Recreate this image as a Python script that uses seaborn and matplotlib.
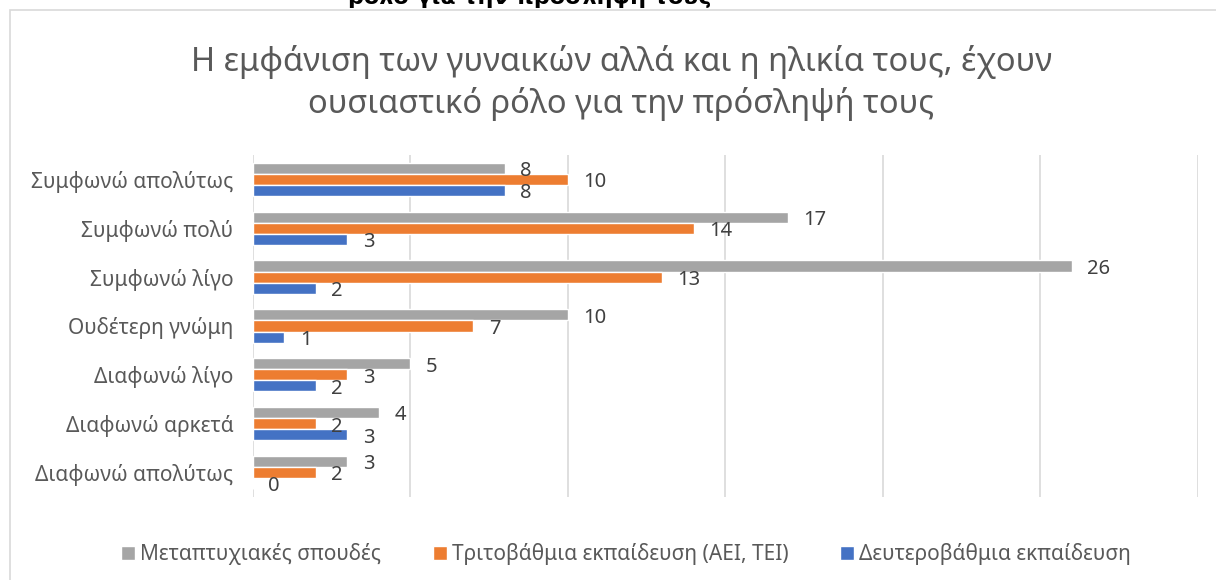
import pandas as pd
import matplotlib
matplotlib.use('Agg')
import matplotlib.pyplot as plt
import seaborn as sns

categories = ['Συμφωνώ απολύτως', 'Συμφωνώ πολύ', 'Συμφωνώ λίγο', 'Ουδέτερη γνώμη',
              'Διαφωνώ λίγο', 'Διαφωνώ αρκετά', 'Διαφωνώ απολύτως']
series = ['Μεταπτυχιακές σπουδές', 'Τριτοβάθμια εκπαίδευση (ΑΕΙ, ΤΕΙ)', 'Δευτεροβάθμια εκπαίδευση']
postgrad = [8, 17, 26, 10, 5, 4, 3]
tertiary = [10, 14, 13, 7, 3, 2, 2]
secondary = [8, 3, 2, 1, 2, 3, 0]
colors = ['#A5A5A5', '#ED7D31', '#4472C4']

title = 'Η εμφάνιση των γυναικών αλλά και η ηλικία τους, έχουν\nουσιαστικό ρόλο για την πρόσληψή τους'
cut_heading = 'ρόλο για την πρόσληψή τους'

rows = []
for s, vals in zip(series, [postgrad, tertiary, secondary]):
    for c, v in zip(categories, vals):
        rows.append({'cat': c, 'series': s, 'value': v})
df = pd.DataFrame(rows)

sns.set_style('white')
plt.rcParams['font.family'] = ['Noto Sans', 'DejaVu Sans']
text_col = '#595959'

fig = plt.figure(figsize=(12.16, 5.8), dpi=100)
ax = fig.add_axes([0.208, 0.143, 0.777, 0.59])

sns.barplot(data=df, y='cat', x='value', hue='series', order=categories,
            hue_order=series, palette=colors, orient='h', width=0.68,
            saturation=1, ax=ax)

ax.set_xlim(0, 30)
ax.set_xticks(range(0, 31, 5))
ax.set_xticklabels([])
ax.grid(axis='x', color='#D9D9D9', linewidth=1.2)
ax.set_axisbelow(True)
for sp in ax.spines.values():
    sp.set_visible(False)
ax.tick_params(axis='both', length=0)
ax.tick_params(axis='y', labelsize=15, labelcolor=text_col, pad=14)
ax.set_xlabel('')
ax.set_ylabel('')

for cont in ax.containers:
    labels = ax.bar_label(cont, padding=11, fontsize=14.5, color='#404040')
    for lab in labels:
        lab.xyann = (11, -2)

leg = ax.legend(loc='upper center', bbox_to_anchor=(0.395, -0.08), ncol=3,
                frameon=False, fontsize=15, handlelength=0.65, handleheight=0.65,
                handletextpad=0.25, columnspacing=2.5)
for t in leg.get_texts():
    t.set_color(text_col)

fig.text(0.511, 0.857, title, ha='center', va='center', fontsize=23.5,
         color=text_col, linespacing=1.3)
fig.text(0.436, 0.993, cut_heading, ha='center', va='baseline', fontsize=16,
         fontweight='bold', family='DejaVu Sans', color='black')

# chart frame
frame = plt.Rectangle((10 / 1216, -0.1), 1.2, 1 - 10 / 580 + 0.1, transform=fig.transFigure,
                      fill=False, edgecolor='#D9D9D9', linewidth=1.2)
fig.patches.append(frame)

fig.savefig('out.png', dpi=100)
